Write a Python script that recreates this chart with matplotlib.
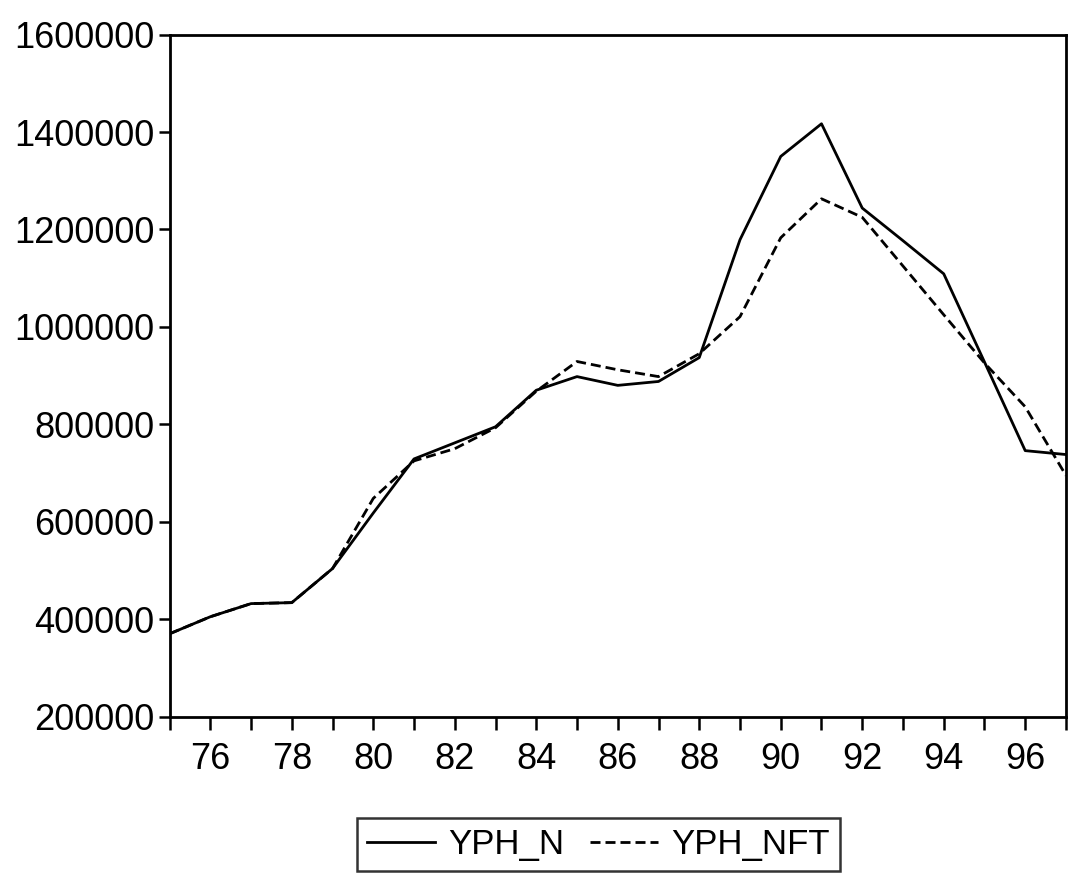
import numpy as np
import matplotlib
matplotlib.use("Agg")
import matplotlib.pyplot as plt

plt.rcParams['font.family'] = ['Liberation Sans', 'DejaVu Sans']

# Data
years = list(range(75, 98))
yph_n = [370000, 405000, 432000, 434000, 504000, 618000, 729000, 762000,
         795000, 870000, 898000, 880000, 888000, 937000, 1179000, 1350000,
         1417000, 1244000, 1177000, 1109000, 928000, 746000, 738000]
yph_nft = [370000, 405000, 432000, 434000, 504000, 648000, 725000, 750000,
           793000, 868000, 929000, 912000, 898000, 945000, 1021000, 1183000,
           1263000, 1225000, 1125000, 1025000, 926000, 836000, 695000]
y_ticks = list(range(200000, 1600001, 200000))

fig = plt.figure(figsize=(10.8, 8.88), dpi=100)
ax = fig.add_axes([0.157, 0.193, 0.83, 0.768])

ax.plot(years, yph_n, color='black', linewidth=2.0, label='YPH_N')
ax.plot(years, yph_nft, color='black', linewidth=2.0, linestyle=(0, (3.6, 1.8)),
        label='YPH_NFT')

ax.set_xlim(75, 97)
ax.set_ylim(200000, 1600000)
ax.set_yticks(y_ticks)
ax.set_yticklabels([str(v) for v in y_ticks])
ax.set_xticks(years)
ax.set_xticklabels([str(y) if y % 2 == 0 else '' for y in years])

ax.tick_params(axis='both', labelsize=26, width=1.8, color='black')
ax.tick_params(axis='y', length=8, pad=3)
ax.tick_params(axis='x', length=9.5, pad=9)
for s in ax.spines.values():
    s.set_linewidth(2.0)

leg = fig.legend(loc='center', bbox_to_anchor=(0.554, 0.049), ncol=2,
                 fontsize=25, frameon=True, fancybox=False, edgecolor='black',
                 handlelength=1.95, handletextpad=0.37, columnspacing=0.75,
                 borderpad=0.3)
leg.get_frame().set_linewidth(1.8)

fig.savefig("out.png", dpi=100)
